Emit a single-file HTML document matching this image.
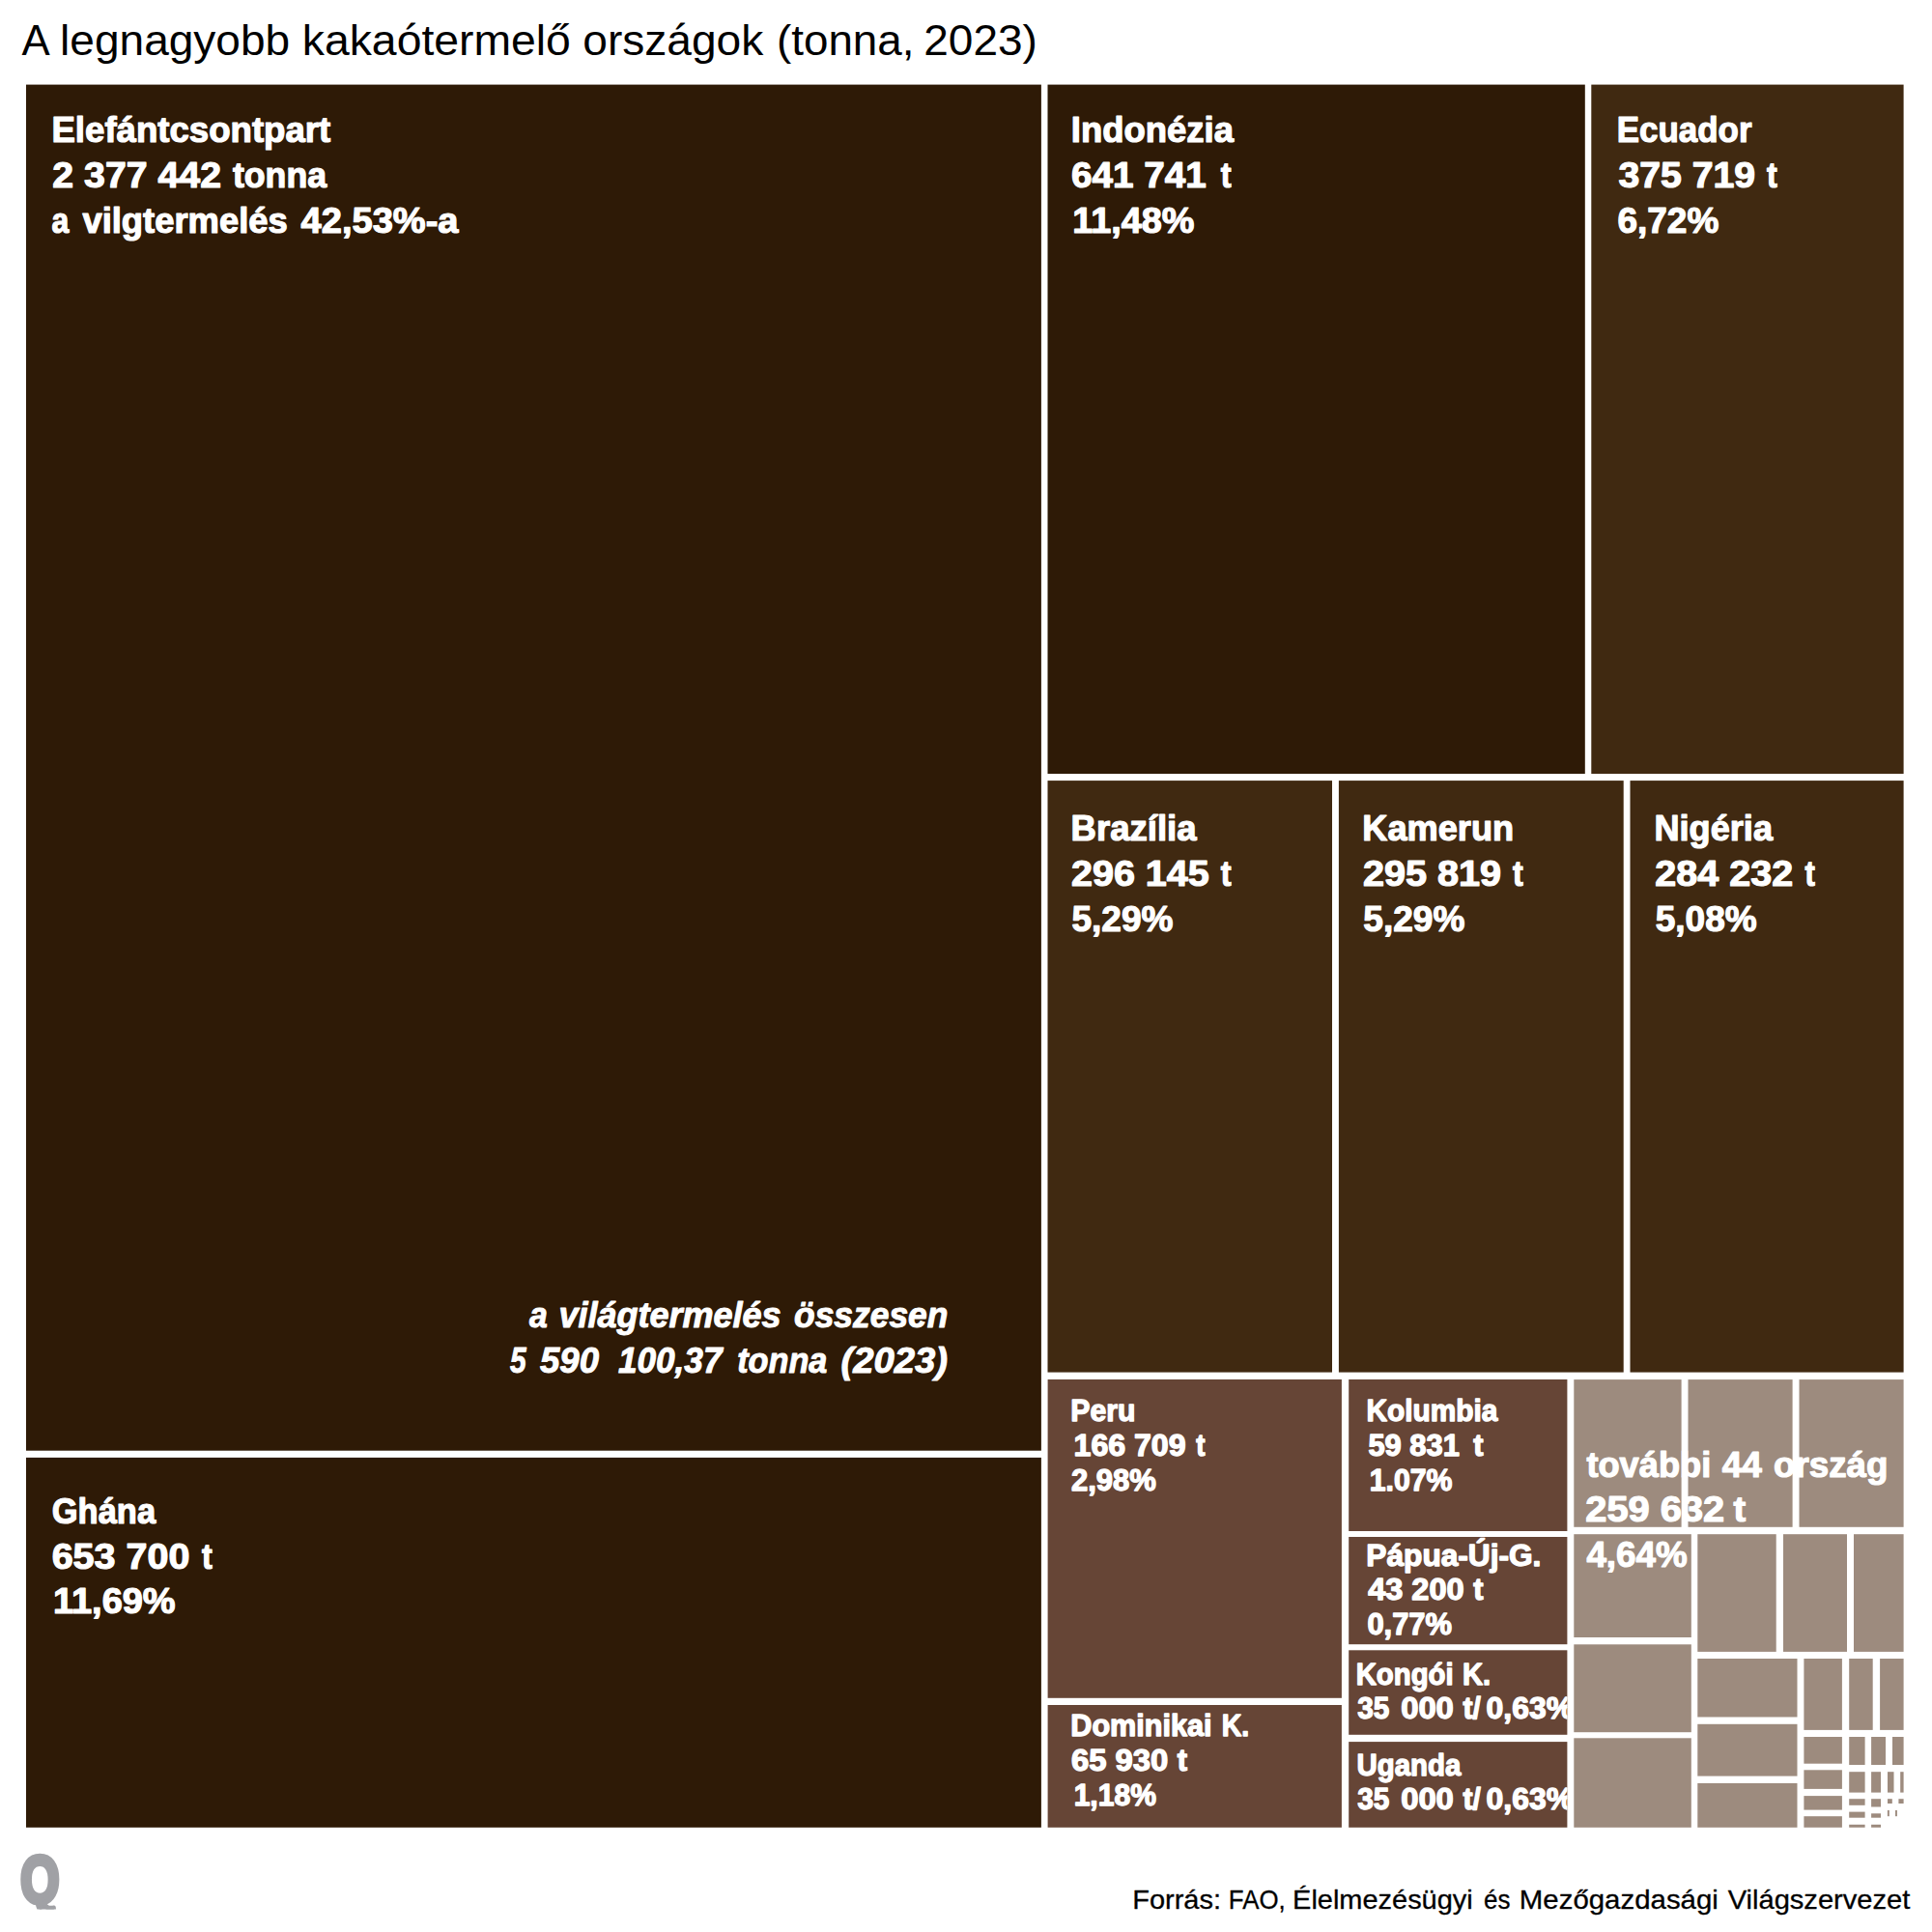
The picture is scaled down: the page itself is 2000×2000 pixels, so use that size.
<!DOCTYPE html>
<html lang="hu">
<head>
<meta charset="utf-8">
<title>A legnagyobb kakaótermelő országok</title>
<style>
html,body{margin:0;padding:0;background:#fff;}
body{width:2000px;height:2000px;overflow:hidden;}
svg{display:block;}
text{font-family:"Liberation Sans",sans-serif;stroke-linejoin:round;}
.b{font-weight:bold;}
.bi{font-weight:bold;font-style:italic;}
</style>
</head>
<body>
<svg width="2000" height="2000" viewBox="0 0 2000 2000">
<rect x="0" y="0" width="2000" height="2000" fill="#ffffff"/>
<defs>
<clipPath id="c10"><rect x="1396.2" y="1591.0" width="226.2" height="111.2"/></clipPath>
<clipPath id="c11"><rect x="1396.2" y="1708.3" width="226.2" height="87.5"/></clipPath>
<clipPath id="c12"><rect x="1396.2" y="1803.1" width="226.2" height="88.7"/></clipPath>
</defs>
<g>
<rect x="27.0" y="87.6" width="1050.9" height="1414.1" fill="#2e1a06"/>
<rect x="27.0" y="1508.9" width="1050.9" height="382.9" fill="#2e1a06"/>
<rect x="1084.5" y="87.6" width="556.3" height="713.4" fill="#2e1a06"/>
<rect x="1647.3" y="87.6" width="323.3" height="713.4" fill="#402911"/>
<rect x="1084.5" y="808.1" width="294.5" height="612.5" fill="#402911"/>
<rect x="1385.9" y="808.1" width="294.8" height="612.5" fill="#402911"/>
<rect x="1687.5" y="808.1" width="283.1" height="612.5" fill="#402911"/>
<rect x="1084.6" y="1428.0" width="304.3" height="329.8" fill="#664536"/>
<rect x="1084.6" y="1765.0" width="304.3" height="126.8" fill="#664536"/>
<rect x="1396.2" y="1428.0" width="226.2" height="157.0" fill="#664536"/>
<rect x="1396.2" y="1591.0" width="226.2" height="111.2" fill="#664536"/>
<rect x="1396.2" y="1708.3" width="226.2" height="87.5" fill="#664536"/>
<rect x="1396.2" y="1803.1" width="226.2" height="88.7" fill="#664536"/>
<rect x="1629.3" y="1428.1" width="111.3" height="152.7" fill="#9d8b7e"/>
<rect x="1747.5" y="1428.1" width="108.1" height="152.7" fill="#9d8b7e"/>
<rect x="1862.5" y="1428.1" width="108.1" height="152.7" fill="#9d8b7e"/>
<rect x="1629.3" y="1588.2" width="121.5" height="106.8" fill="#9d8b7e"/>
<rect x="1629.3" y="1702.3" width="121.5" height="90.9" fill="#9d8b7e"/>
<rect x="1629.3" y="1799.3" width="121.5" height="92.5" fill="#9d8b7e"/>
<rect x="1757.3" y="1588.2" width="81.4" height="121.7" fill="#9d8b7e"/>
<rect x="1846.0" y="1588.2" width="66.0" height="121.7" fill="#9d8b7e"/>
<rect x="1919.0" y="1588.2" width="51.6" height="121.7" fill="#9d8b7e"/>
<rect x="1757.3" y="1717.0" width="103.2" height="60.5" fill="#9d8b7e"/>
<rect x="1757.3" y="1784.8" width="103.2" height="53.8" fill="#9d8b7e"/>
<rect x="1757.3" y="1846.0" width="103.2" height="45.8" fill="#9d8b7e"/>
<rect x="1867.4" y="1717.0" width="39.5" height="73.9" fill="#9d8b7e"/>
<rect x="1914.2" y="1717.0" width="24.5" height="73.9" fill="#9d8b7e"/>
<rect x="1946.1" y="1717.0" width="24.5" height="73.9" fill="#9d8b7e"/>
<rect x="1867.4" y="1798.0" width="39.5" height="27.7" fill="#9d8b7e"/>
<rect x="1914.2" y="1798.0" width="16.4" height="29.0" fill="#9d8b7e"/>
<rect x="1937.1" y="1798.0" width="14.9" height="29.0" fill="#9d8b7e"/>
<rect x="1959.0" y="1798.0" width="11.6" height="29.0" fill="#9d8b7e"/>
<rect x="1867.4" y="1832.3" width="39.5" height="19.6" fill="#9d8b7e"/>
<rect x="1914.2" y="1834.2" width="16.4" height="21.4" fill="#9d8b7e"/>
<rect x="1937.1" y="1834.2" width="9.9" height="21.4" fill="#9d8b7e"/>
<rect x="1954.0" y="1834.2" width="6.5" height="21.4" fill="#9d8b7e"/>
<rect x="1967.2" y="1834.2" width="3.4" height="21.4" fill="#9d8b7e"/>
<rect x="1867.4" y="1859.1" width="39.5" height="14.5" fill="#9d8b7e"/>
<rect x="1914.2" y="1862.2" width="16.4" height="6.6" fill="#9d8b7e"/>
<rect x="1937.1" y="1862.2" width="9.9" height="8.3" fill="#9d8b7e"/>
<rect x="1954.0" y="1862.2" width="4.8" height="4.8" fill="#9d8b7e"/>
<rect x="1965.4" y="1862.2" width="5.2" height="4.8" fill="#9d8b7e"/>
<rect x="1867.4" y="1880.2" width="39.5" height="11.6" fill="#9d8b7e"/>
<rect x="1914.2" y="1875.6" width="16.4" height="6.1" fill="#9d8b7e"/>
<rect x="1937.1" y="1877.3" width="9.9" height="4.4" fill="#9d8b7e"/>
<rect x="1953.9" y="1874.0" width="1.9" height="6.2" fill="#9d8b7e"/>
<rect x="1962.0" y="1874.0" width="1.9" height="6.2" fill="#9d8b7e"/>
<rect x="1914.2" y="1888.8" width="16.4" height="3.0" fill="#9d8b7e"/>
<rect x="1937.1" y="1888.8" width="9.9" height="3.0" fill="#9d8b7e"/>
</g>
<g>
<text y="56.9" font-size="45.0" fill="#000"><tspan x="22.60" textLength="38.97" lengthAdjust="spacingAndGlyphs">A </tspan><tspan x="62.13" textLength="250.81" lengthAdjust="spacingAndGlyphs">legnagyobb </tspan><tspan x="312.81" textLength="290.91" lengthAdjust="spacingAndGlyphs">kakaótermelő </tspan><tspan x="603.28" textLength="199.71" lengthAdjust="spacingAndGlyphs">országok </tspan><tspan x="804.07" textLength="155.10" lengthAdjust="spacingAndGlyphs">(tonna, </tspan><tspan x="956.26" textLength="117.57" lengthAdjust="spacingAndGlyphs">2023)</tspan></text>
<text y="147.4" font-size="37.5" fill="#fff" stroke="#fff" stroke-width="1.2" class="b"><tspan x="53.45" textLength="288.85" lengthAdjust="spacingAndGlyphs">Elefántcsontpart</tspan></text>
<text y="194.4" font-size="37.5" fill="#fff" stroke="#fff" stroke-width="1.2" class="b"><tspan x="54.35" textLength="185.55" lengthAdjust="spacingAndGlyphs">2 377 442 </tspan><tspan x="240.90" textLength="97.21" lengthAdjust="spacingAndGlyphs">tonna</tspan></text>
<text y="241.3" font-size="37.5" fill="#fff" stroke="#fff" stroke-width="1.2" class="b"><tspan x="53.55" textLength="26.66" lengthAdjust="spacingAndGlyphs">a </tspan><tspan x="85.40" textLength="222.54" lengthAdjust="spacingAndGlyphs">vilgtermelés </tspan><tspan x="311.60" textLength="162.94" lengthAdjust="spacingAndGlyphs">42,53%-a</tspan></text>
<text y="147.4" font-size="37.5" fill="#fff" stroke="#fff" stroke-width="1.2" class="b"><tspan x="1108.86" textLength="168.13" lengthAdjust="spacingAndGlyphs">Indonézia</tspan></text>
<text y="194.4" font-size="37.5" fill="#fff" stroke="#fff" stroke-width="1.2" class="b"><tspan x="1108.97" textLength="150.45" lengthAdjust="spacingAndGlyphs">641 741 </tspan><tspan x="1263.70" textLength="10.85" lengthAdjust="spacingAndGlyphs">t</tspan></text>
<text y="241.3" font-size="37.5" fill="#fff" stroke="#fff" stroke-width="1.2" class="b"><tspan x="1110.28" textLength="126.16" lengthAdjust="spacingAndGlyphs">11,48%</tspan></text>
<text y="147.4" font-size="37.5" fill="#fff" stroke="#fff" stroke-width="1.2" class="b"><tspan x="1673.84" textLength="139.68" lengthAdjust="spacingAndGlyphs">Ecuador</tspan></text>
<text y="194.4" font-size="37.5" fill="#fff" stroke="#fff" stroke-width="1.2" class="b"><tspan x="1675.40" textLength="152.59" lengthAdjust="spacingAndGlyphs">375 719 </tspan><tspan x="1829.10" textLength="10.76" lengthAdjust="spacingAndGlyphs">t</tspan></text>
<text y="241.3" font-size="37.5" fill="#fff" stroke="#fff" stroke-width="1.2" class="b"><tspan x="1674.41" textLength="104.93" lengthAdjust="spacingAndGlyphs">6,72%</tspan></text>
<text y="869.7" font-size="37.5" fill="#fff" stroke="#fff" stroke-width="1.2" class="b"><tspan x="1108.55" textLength="130.03" lengthAdjust="spacingAndGlyphs">Brazília</tspan></text>
<text y="916.6" font-size="37.5" fill="#fff" stroke="#fff" stroke-width="1.2" class="b"><tspan x="1108.95" textLength="153.84" lengthAdjust="spacingAndGlyphs">296 145 </tspan><tspan x="1263.70" textLength="10.85" lengthAdjust="spacingAndGlyphs">t</tspan></text>
<text y="963.6" font-size="37.5" fill="#fff" stroke="#fff" stroke-width="1.2" class="b"><tspan x="1109.51" textLength="104.93" lengthAdjust="spacingAndGlyphs">5,29%</tspan></text>
<text y="869.7" font-size="37.5" fill="#fff" stroke="#fff" stroke-width="1.2" class="b"><tspan x="1410.37" textLength="156.77" lengthAdjust="spacingAndGlyphs">Kamerun</tspan></text>
<text y="916.6" font-size="37.5" fill="#fff" stroke="#fff" stroke-width="1.2" class="b"><tspan x="1410.94" textLength="154.16" lengthAdjust="spacingAndGlyphs">295 819 </tspan><tspan x="1566.10" textLength="10.76" lengthAdjust="spacingAndGlyphs">t</tspan></text>
<text y="963.6" font-size="37.5" fill="#fff" stroke="#fff" stroke-width="1.2" class="b"><tspan x="1411.31" textLength="105.03" lengthAdjust="spacingAndGlyphs">5,29%</tspan></text>
<text y="869.7" font-size="37.5" fill="#fff" stroke="#fff" stroke-width="1.2" class="b"><tspan x="1712.47" textLength="122.52" lengthAdjust="spacingAndGlyphs">Nigéria</tspan></text>
<text y="916.6" font-size="37.5" fill="#fff" stroke="#fff" stroke-width="1.2" class="b"><tspan x="1713.35" textLength="153.73" lengthAdjust="spacingAndGlyphs">284 232 </tspan><tspan x="1868.40" textLength="10.37" lengthAdjust="spacingAndGlyphs">t</tspan></text>
<text y="963.6" font-size="37.5" fill="#fff" stroke="#fff" stroke-width="1.2" class="b"><tspan x="1713.71" textLength="104.93" lengthAdjust="spacingAndGlyphs">5,08%</tspan></text>
<text y="1576.7" font-size="37.5" fill="#fff" stroke="#fff" stroke-width="1.2" class="b"><tspan x="53.78" textLength="107.37" lengthAdjust="spacingAndGlyphs">Ghána</tspan></text>
<text y="1623.5" font-size="37.5" fill="#fff" stroke="#fff" stroke-width="1.2" class="b"><tspan x="53.65" textLength="153.73" lengthAdjust="spacingAndGlyphs">653 700 </tspan><tspan x="208.90" textLength="10.76" lengthAdjust="spacingAndGlyphs">t</tspan></text>
<text y="1670.3" font-size="37.5" fill="#fff" stroke="#fff" stroke-width="1.2" class="b"><tspan x="54.98" textLength="126.67" lengthAdjust="spacingAndGlyphs">11,69%</tspan></text>
<text y="1374.4" font-size="37.5" fill="#fff" stroke="#fff" stroke-width="1.0" class="bi"><tspan x="548.00" textLength="28.15" lengthAdjust="spacingAndGlyphs">a </tspan><tspan x="578.48" textLength="240.04" lengthAdjust="spacingAndGlyphs">világtermelés </tspan><tspan x="822.06" textLength="159.30" lengthAdjust="spacingAndGlyphs">összesen</tspan></text>
<text y="1421.4" font-size="37.5" fill="#fff" stroke="#fff" stroke-width="1.0" class="bi"><tspan x="528.00" textLength="24.88" lengthAdjust="spacingAndGlyphs">5 </tspan><tspan x="559.00" textLength="71.11" lengthAdjust="spacingAndGlyphs">590 </tspan><tspan x="639.90" textLength="117.36" lengthAdjust="spacingAndGlyphs">100,37 </tspan><tspan x="763.19" textLength="102.71" lengthAdjust="spacingAndGlyphs">tonna </tspan><tspan x="870.48" textLength="110.52" lengthAdjust="spacingAndGlyphs">(2023)</tspan></text>
<text y="1471.2" font-size="30.5" fill="#fff" stroke="#fff" stroke-width="1.3" class="b"><tspan x="1108.37" textLength="66.99" lengthAdjust="spacingAndGlyphs">Peru</tspan></text>
<text y="1506.8" font-size="30.5" fill="#fff" stroke="#fff" stroke-width="1.3" class="b"><tspan x="1111.60" textLength="124.88" lengthAdjust="spacingAndGlyphs">166 709 </tspan><tspan x="1238.15" textLength="9.24" lengthAdjust="spacingAndGlyphs">t</tspan></text>
<text y="1543.0" font-size="30.5" fill="#fff" stroke="#fff" stroke-width="1.3" class="b"><tspan x="1109.03" textLength="87.84" lengthAdjust="spacingAndGlyphs">2,98%</tspan></text>
<text y="1797.3" font-size="30.5" fill="#fff" stroke="#fff" stroke-width="1.3" class="b"><tspan x="1108.34" textLength="154.68" lengthAdjust="spacingAndGlyphs">Dominikai </tspan><tspan x="1264.79" textLength="28.44" lengthAdjust="spacingAndGlyphs">K.</tspan></text>
<text y="1832.9" font-size="30.5" fill="#fff" stroke="#fff" stroke-width="1.3" class="b"><tspan x="1108.98" textLength="109.31" lengthAdjust="spacingAndGlyphs">65 930 </tspan><tspan x="1218.75" textLength="10.26" lengthAdjust="spacingAndGlyphs">t</tspan></text>
<text y="1869.2" font-size="30.5" fill="#fff" stroke="#fff" stroke-width="1.3" class="b"><tspan x="1111.66" textLength="85.20" lengthAdjust="spacingAndGlyphs">1,18%</tspan></text>
<text y="1471.0" font-size="30.5" fill="#fff" stroke="#fff" stroke-width="1.3" class="b"><tspan x="1414.49" textLength="135.84" lengthAdjust="spacingAndGlyphs">Kolumbia</tspan></text>
<text y="1506.8" font-size="30.5" fill="#fff" stroke="#fff" stroke-width="1.3" class="b"><tspan x="1416.45" textLength="102.93" lengthAdjust="spacingAndGlyphs">59 831 </tspan><tspan x="1525.15" textLength="10.26" lengthAdjust="spacingAndGlyphs">t</tspan></text>
<text y="1542.7" font-size="30.5" fill="#fff" stroke="#fff" stroke-width="1.3" class="b"><tspan x="1417.76" textLength="85.61" lengthAdjust="spacingAndGlyphs">1.07%</tspan></text>
<text y="1621.1" font-size="30.5" fill="#fff" stroke="#fff" stroke-width="1.3" class="b" clip-path="url(#c10)"><tspan x="1414.38" textLength="181.00" lengthAdjust="spacingAndGlyphs">Pápua-Új-G.</tspan></text>
<text y="1656.3" font-size="30.5" fill="#fff" stroke="#fff" stroke-width="1.3" class="b"><tspan x="1416.15" textLength="108.46" lengthAdjust="spacingAndGlyphs">43 200 </tspan><tspan x="1525.15" textLength="10.26" lengthAdjust="spacingAndGlyphs">t</tspan></text>
<text y="1692.2" font-size="30.5" fill="#fff" stroke="#fff" stroke-width="1.3" class="b"><tspan x="1415.44" textLength="87.53" lengthAdjust="spacingAndGlyphs">0,77%</tspan></text>
<text y="1744.0" font-size="30.5" fill="#fff" stroke="#fff" stroke-width="1.3" class="b"><tspan x="1403.63" textLength="109.19" lengthAdjust="spacingAndGlyphs">Kongói </tspan><tspan x="1514.04" textLength="29.12" lengthAdjust="spacingAndGlyphs">K.</tspan></text>
<text y="1779.2" font-size="30.5" fill="#fff" stroke="#fff" stroke-width="1.3" class="b" clip-path="url(#c11)"><tspan x="1405.15" textLength="41.32" lengthAdjust="spacingAndGlyphs">35 </tspan><tspan x="1450.17" textLength="63.82" lengthAdjust="spacingAndGlyphs">000 </tspan><tspan x="1514.45" textLength="18.38" lengthAdjust="spacingAndGlyphs">t/</tspan><tspan x="1538.61" textLength="90.37" lengthAdjust="spacingAndGlyphs">0,63%</tspan></text>
<text y="1837.6" font-size="30.5" fill="#fff" stroke="#fff" stroke-width="1.3" class="b"><tspan x="1404.59" textLength="107.76" lengthAdjust="spacingAndGlyphs">Uganda</tspan></text>
<text y="1872.8" font-size="30.5" fill="#fff" stroke="#fff" stroke-width="1.3" class="b" clip-path="url(#c12)"><tspan x="1405.15" textLength="41.32" lengthAdjust="spacingAndGlyphs">35 </tspan><tspan x="1450.17" textLength="63.82" lengthAdjust="spacingAndGlyphs">000 </tspan><tspan x="1514.45" textLength="18.38" lengthAdjust="spacingAndGlyphs">t/</tspan><tspan x="1538.61" textLength="90.37" lengthAdjust="spacingAndGlyphs">0,63%</tspan></text>
<text y="1529.0" font-size="37.5" fill="#fff" stroke="#fff" stroke-width="1.2" class="b"><tspan x="1642.40" textLength="138.90" lengthAdjust="spacingAndGlyphs">további </tspan><tspan x="1782.80" textLength="51.44" lengthAdjust="spacingAndGlyphs">44 </tspan><tspan x="1836.12" textLength="118.35" lengthAdjust="spacingAndGlyphs">ország</tspan></text>
<text y="1575.3" font-size="37.5" fill="#fff" stroke="#fff" stroke-width="1.2" class="b"><tspan x="1641.34" textLength="154.93" lengthAdjust="spacingAndGlyphs">259 632 </tspan><tspan x="1794.60" textLength="12.68" lengthAdjust="spacingAndGlyphs">t</tspan></text>
<text y="1622.0" font-size="37.5" fill="#fff" stroke="#fff" stroke-width="1.2" class="b"><tspan x="1642.40" textLength="104.24" lengthAdjust="spacingAndGlyphs">4,64%</tspan></text>
<text y="1976.1" font-size="28.5" fill="#000" stroke="#000" stroke-width="0.3"><tspan x="1172.22" textLength="99.84" lengthAdjust="spacingAndGlyphs">Forrás: </tspan><tspan x="1271.84" textLength="66.03" lengthAdjust="spacingAndGlyphs">FAO, </tspan><tspan x="1338.12" textLength="194.62" lengthAdjust="spacingAndGlyphs">Élelmezésügyi </tspan><tspan x="1535.94" textLength="34.66" lengthAdjust="spacingAndGlyphs">és </tspan><tspan x="1572.89" textLength="214.11" lengthAdjust="spacingAndGlyphs">Mezőgazdasági </tspan><tspan x="1788.65" textLength="188.72" lengthAdjust="spacingAndGlyphs">Világszervezet</tspan></text>
<clipPath id="cq"><rect x="0" y="1900" width="120" height="76.6"/></clipPath>
<text x="21.3" y="1968.9" font-size="69.1" fill="#a0a1a5" stroke="#a0a1a5" stroke-width="5.5" class="b" clip-path="url(#cq)" textLength="40.2" lengthAdjust="spacingAndGlyphs">Q</text>
</g>
</svg>
</body>
</html>
